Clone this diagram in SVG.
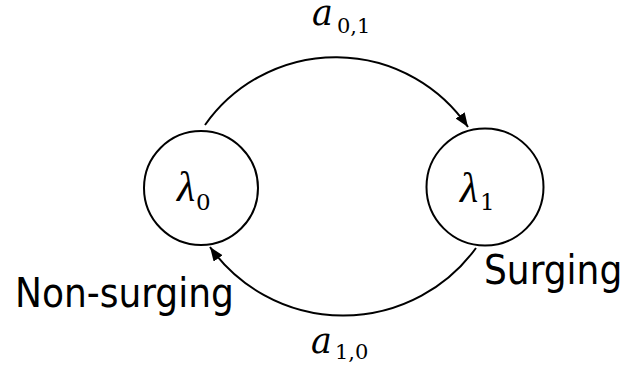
<svg xmlns="http://www.w3.org/2000/svg" width="623" height="371" viewBox="0 0 623 371">
  <style>
    .state { fill: #ffffff; stroke: #000000; stroke-width: 2; }
    .edge { fill: none; stroke: #000000; stroke-width: 2; }
    .math { font-family: "Liberation Serif", "DejaVu Serif", serif; fill: #000000; }
    .var { font-style: italic; }
    .rate { font-family: "DejaVu Serif", "Liberation Serif", serif; font-style: italic; }
    .sub { font-family: "DejaVu Serif", "Liberation Serif", serif; }
    .label { font-family: "DejaVu Sans Condensed", "DejaVu Sans", "Liberation Sans", sans-serif; font-stretch: condensed; font-size: 40px; fill: #000000; }
  </style>
  <defs>
    <marker id="arrow" markerUnits="userSpaceOnUse" markerWidth="16" markerHeight="12" refX="14" refY="5.5" orient="auto">
      <path d="M0,0 L14,5.5 L0,11 Z" fill="#000000"/>
    </marker>
  </defs>

  <!-- transitions between the two states -->
  <g id="connectors">
    <path class="edge" d="M205,125 A160,160 0 0 1 468,127" marker-end="url(#arrow)"/>
    <path class="edge" d="M476,248 A164,164 0 0 1 210,247" marker-end="url(#arrow)"/>
    <text class="math" x="312" y="25"><tspan class="rate" font-size="35">a</tspan><tspan class="sub" font-size="21" x="337" y="33">0,1</tspan></text>
    <text class="math" x="311" y="353"><tspan class="rate" font-size="35">a</tspan><tspan class="sub" font-size="21" x="335" y="359">1,0</tspan></text>
  </g>

  <!-- state 0: non-surging -->
  <g id="state0">
    <circle class="state" cx="201" cy="188" r="57"/>
    <text class="math" x="177" y="201"><tspan class="var" font-size="42">λ</tspan><tspan class="sub" font-size="23" x="196" y="210">0</tspan></text>
    <text class="label" x="15" y="307">Non-surging</text>
  </g>

  <!-- state 1: surging -->
  <g id="state1">
    <circle class="state" cx="485" cy="187" r="58.5"/>
    <text class="math" x="460" y="202"><tspan class="var" font-size="42">λ</tspan><tspan class="sub" font-size="23" x="480" y="210">1</tspan></text>
    <text class="label" x="484" y="284">Surging</text>
  </g>
</svg>
